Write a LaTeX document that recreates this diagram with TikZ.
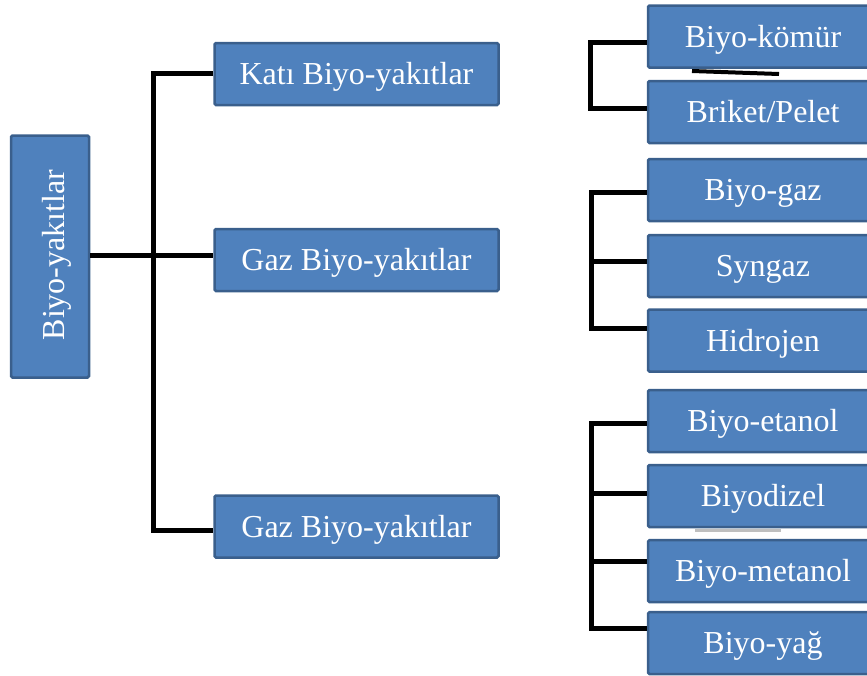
\documentclass[tikz,border=0pt]{standalone}
\usepackage{fontspec}
\setmainfont{Liberation Serif}
\definecolor{boxfill}{HTML}{4F81BD}
\definecolor{boxline}{HTML}{3A5F8C}
\begin{document}
\begin{tikzpicture}[x=1pt,y=-1pt,
  lbl/.style={text=white, font=\fontsize{32}{34}\selectfont, text height=21pt, text depth=0pt, inner sep=0pt},
  box/.style={draw=boxline, line width=2.5pt, fill=boxfill, rounded corners=1.5pt,
    lbl, anchor=center},
  midbox/.style={box, minimum width=284pt, minimum height=62pt},
  rbox/.style={box, minimum width=230pt, minimum height=62pt},
  conn/.style={draw=black, line width=5pt},
  stray/.style={draw=black, line width=4pt}]
\useasboundingbox (0,0) rectangle (867,675);
% root
\node[box, minimum width=78pt, minimum height=242pt] (root) at (50,256.5) {};
\node[lbl, rotate=90] (rootlbl) at (54,255) {Biyo-yakıtlar};
% middle
\node[midbox] (kati) at (356.5,74) {Katı Biyo-yakıtlar};
\node[midbox] (gaz) at (356.5,260) {Gaz Biyo-yakıtlar};
\node[midbox] (gazb) at (356.5,526.5) {Gaz Biyo-yakıtlar};
% right
\node[rbox] (kom) at (763,36.5) {Biyo-kömür};
\node[rbox] (bri) at (763,112) {Briket/Pelet};
\node[rbox] (bgaz) at (763,190) {Biyo-gaz};
\node[rbox] (syn) at (763,266) {Syngaz};
\node[rbox] (hid) at (763,340.5) {Hidrojen};
\node[rbox] (eta) at (763,421) {Biyo-etanol};
\node[rbox] (diz) at (763,496) {Biyodizel};
\node[rbox] (met) at (763,571) {Biyo-metanol};
\node[rbox] (yag) at (763,643) {Biyo-yağ};
% left tree
\coordinate (spt) at (153,73);
\coordinate (spb) at (153,530);
\draw[conn] (root.east |- 0,255) -- (gaz.west |- 0,255);
\draw[conn] (kati.west |- 0,73) -- (spt) -- (spb) -- (gazb.west |- 0,530);
% group 1
\draw[conn] (kom.west |- 0,42) -| (590,108) -- (bri.west |- 0,108);
% group 2
\draw[conn] (bgaz.west |- 0,192) -| (591,328) -- (hid.west |- 0,328);
\draw[conn] (591,261) -- (syn.west |- 0,261);
% group 3
\draw[conn] (eta.west |- 0,423) -| (591,628) -- (yag.west |- 0,628);
\draw[conn] (591,493) -- (diz.west |- 0,493);
\draw[conn] (591,561) -- (met.west |- 0,561);
% stray marks
\draw[stray] (692,71) -- (779,74);
\draw[draw=black!25, line width=3pt] (695,530) -- (781,530);
\end{tikzpicture}
\end{document}
